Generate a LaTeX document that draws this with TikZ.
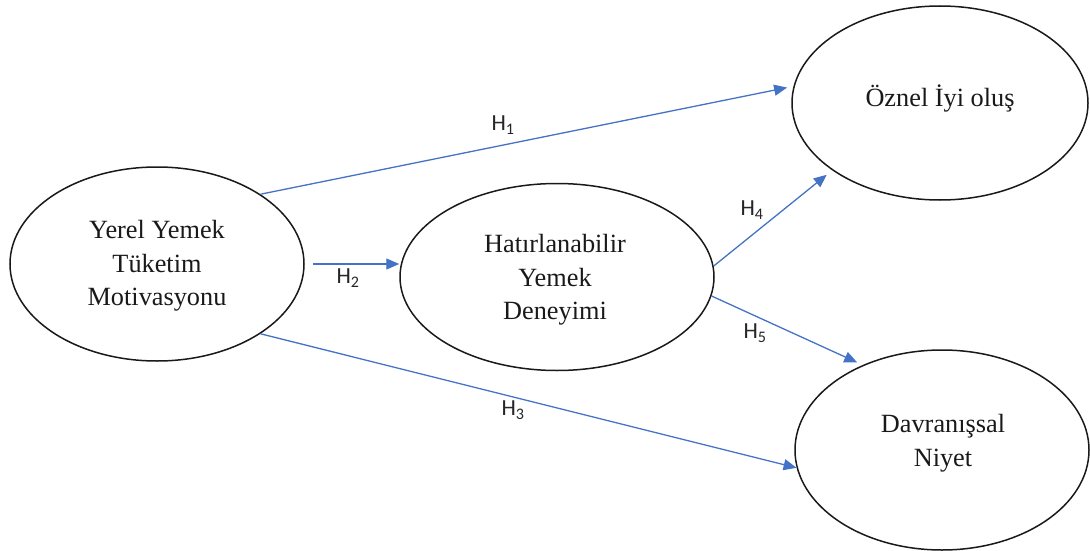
\documentclass[tikz,border=0pt]{standalone}
\usepackage{fontspec}
\setmainfont{Liberation Serif}
\newfontfamily\labfont{Carlito}
\usetikzlibrary{shapes.geometric,arrows.meta}
\definecolor{arrblue}{HTML}{4472C4}
\begin{document}
\begin{tikzpicture}[x=1pt,y=-1pt,
  construct/.style={ellipse,draw=black!90,line width=1.5pt,inner sep=0pt},
  ctext/.style={align=center,inner sep=0pt,font=\fontsize{26.3}{33.5}\selectfont,text=black!90},
  arr/.style={draw=arrblue,line width=1.3pt,-{Triangle[length=13pt,width=11pt]},arrblue},
  hlab/.style={font=\labfont\fontsize{23}{26}\selectfont,inner sep=0pt,text=black!85}]
\useasboundingbox (0,0) rectangle (1090,551);
\node[construct,minimum width=294pt,minimum height=194pt] (L) at (157,264) {};
\node[construct,minimum width=314pt,minimum height=187pt] (M) at (557,277) {};
\node[construct,minimum width=296pt,minimum height=194pt] (TR) at (940,103) {};
\node[construct,minimum width=294pt,minimum height=200pt] (BR) at (942,450) {};
\node[ctext] (Lt) at (157,266) {Yerel Yemek\\Tüketim\\Motivasyonu};
\node[ctext] (Mt) at (555,280) {Hatırlanabilir\\Yemek\\Deneyimi};
\node[ctext] (TRt) at (940,98) {Öznel İyi oluş};
\node[ctext] (BRt) at (943,443) {Davranışsal\\Niyet};
\draw[arr] (L.34.6) -- ([xshift=-6pt]TR.174);
\draw[arr] ([xshift=8pt]L.east) -- (M.west |- L.east);
\draw[arr] (L.-34) -- (BR.187);
\draw[arr,shorten >=7pt] (M.4) -- (TR.212.5);
\draw[arr,shorten >=6pt] (M.-7.5) -- (BR.133.3);
\node[hlab] (h1) at (503,125) {H\textsubscript{1}};
\node[hlab] (h2) at (348,278) {H\textsubscript{2}};
\node[hlab] (h3) at (513,410) {H\textsubscript{3}};
\node[hlab] (h4) at (752,210) {H\textsubscript{4}};
\node[hlab] (h5) at (755,333) {H\textsubscript{5}};
\end{tikzpicture}
\end{document}
